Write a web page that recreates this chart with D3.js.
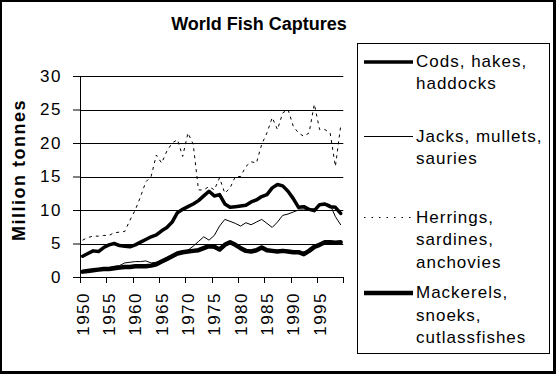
<!DOCTYPE html>
<html><head><meta charset="utf-8">
<script src="https://cdn.jsdelivr.net/npm/d3@7"></script>
<style>
body{margin:0;background:#fff;}
svg{display:block;}
text{font-family:Arial,"Liberation Sans",sans-serif;fill:#000;}
</style></head>
<body>
<svg id="chart" width="556" height="374"></svg>
<script>
const years = d3.range(1950, 2000);
const yTicks = [0, 5, 10, 15, 20, 25, 30];
const xTickLabels = [1950, 1955, 1960, 1965, 1970, 1975, 1980, 1985, 1990, 1995];

const cods = [3.1,3.5,3.9,3.8,4.4,4.8,5.0,4.7,4.6,4.5,
  4.8,5.2,5.6,6.0,6.3,6.9,7.4,8.2,9.6,10.1,
  10.5,10.9,11.4,12.1,12.8,12.1,12.3,10.9,10.4,10.5,
  10.6,10.7,11.2,11.5,12.0,12.3,13.3,13.8,13.6,12.8,
  11.7,10.4,10.5,10.1,9.9,10.8,10.9,10.5,10.4,9.5];
const jacks = [0.8,1.0,1.1,1.2,1.3,1.4,1.6,1.7,2.1,2.2,
  2.3,2.3,2.4,2.1,2.2,2.4,2.8,3.1,3.4,3.8,
  4.0,4.6,5.3,6.0,5.5,6.2,7.6,8.6,8.3,8.0,
  7.6,8.1,7.8,8.2,8.6,8.0,7.4,8.2,9.2,9.4,
  9.7,10.0,10.0,10.1,10.2,10.6,11.0,10.8,9.0,7.8];
const herrings = [5.5,5.9,6.1,6.1,6.2,6.2,6.6,6.7,6.8,8.5,
  10.0,12.0,14.2,15.0,18.2,17.0,18.8,20.0,20.5,18.0,
  21.5,19.8,13.0,13.0,13.5,13.0,14.8,12.5,13.3,15.0,
  15.0,16.5,17.2,17.0,19.8,21.5,23.8,22.0,24.5,25.0,
  22.5,21.5,21.0,21.5,25.8,22.0,22.0,21.5,16.5,22.5];
const mackerels = [0.8,0.9,1.0,1.1,1.2,1.2,1.3,1.4,1.5,1.5,
  1.6,1.6,1.6,1.7,1.9,2.3,2.7,3.1,3.5,3.7,
  3.8,3.9,4.0,4.3,4.6,4.5,4.1,4.8,5.2,4.8,
  4.3,3.9,3.8,4.0,4.4,4.0,3.9,3.8,3.9,3.8,
  3.7,3.7,3.4,3.9,4.5,4.8,5.2,5.2,5.1,5.2];

const seriesNames = [
  ["Cods, hakes,", "haddocks"],
  ["Jacks, mullets,", "sauries"],
  ["Herrings,", "sardines,", "anchovies"],
  ["Mackerels,", "snoeks,", "cutlassfishes"]
];
const seriesValues = [cods, jacks, herrings, mackerels];
const seriesStyle = [
  {w: 3.5, dash: null},
  {w: 1, dash: null},
  {w: 1, dash: "3,4"},
  {w: 4.5, dash: null}
];

const svg = d3.select("#chart");
const L = 80, R = 343.3, T = 76, B = 277;

const x = d3.scaleBand().domain(years).range([L, R]).padding(0);
const xc = yr => x(yr) + x.bandwidth() / 2;
const y = d3.scaleLinear().domain([0, 30]).range([B, T]);

// outer frame
svg.append("rect").attr("x", 0).attr("y", 0).attr("width", 556).attr("height", 374).attr("fill", "#fff");
svg.append("rect").attr("x", 0).attr("y", 0).attr("width", 2).attr("height", 374).attr("fill", "#000");
svg.append("rect").attr("x", 0).attr("y", 0).attr("width", 556).attr("height", 2).attr("fill", "#000");
svg.append("rect").attr("x", 553).attr("y", 0).attr("width", 3).attr("height", 374).attr("fill", "#000");
svg.append("rect").attr("x", 0).attr("y", 371).attr("width", 556).attr("height", 3).attr("fill", "#000");

// title
svg.append("text").attr("x", 259).attr("y", 30).attr("text-anchor", "middle")
  .style("font-size", "18px").style("font-weight", "bold").text("World Fish Captures");

// gridlines
svg.append("g").selectAll("line").data(yTicks.filter(d => d > 0)).join("line")
  .attr("x1", L).attr("x2", R).attr("y1", d => Math.round(y(d)) + 0.5).attr("y2", d => Math.round(y(d)) + 0.5)
  .attr("stroke", "#000").attr("stroke-width", 1);

// y axis
const yAxis = svg.append("g").attr("transform", `translate(${L},0)`)
  .call(d3.axisLeft(y).tickValues(yTicks).tickSize(7).tickPadding(11).tickFormat(d3.format("d")));
yAxis.select(".domain").attr("stroke", "#000").attr("d", `M0.5,${B}V${T}`);
yAxis.selectAll(".tick line").attr("stroke", "#000");
yAxis.selectAll(".tick text").style("font-size", "17px").style("letter-spacing", "1.5px")
  .style("font-family", "Arial, 'Liberation Sans', sans-serif").attr("fill", "#000");

// x axis line and ticks
const xTickPos = xTickLabels.map(v => x(v)).concat([R]);
svg.append("line").attr("x1", L).attr("x2", R).attr("y1", B + 0.5).attr("y2", B + 0.5).attr("stroke", "#000");
svg.append("g").selectAll("line").data(xTickPos).join("line")
  .attr("x1", d => Math.round(d) + 0.5).attr("x2", d => Math.round(d) + 0.5)
  .attr("y1", B).attr("y2", B + 6).attr("stroke", "#000");

// x labels (rotated)
svg.append("g").selectAll("text").data(xTickLabels).join("text")
  .attr("transform", d => `translate(${xc(d) + 6},292) rotate(-90)`)
  .attr("text-anchor", "end")
  .style("font-size", "17px").style("letter-spacing", "1.5px")
  .text(d => d);

// y axis title
svg.append("text").attr("transform", "translate(25,170) rotate(-90)").attr("text-anchor", "middle")
  .style("font-size", "18px").style("font-weight", "bold").style("letter-spacing", "1.5px")
  .text("Million tonnes");

// lines
const line = d3.line().x((d, i) => xc(years[i])).y(d => y(d)).curve(d3.curveLinear);
seriesValues.forEach((vals, i) => {
  svg.append("path").datum(vals).attr("d", line)
    .attr("fill", "none").attr("stroke", "#000")
    .attr("stroke-width", seriesStyle[i].w)
    .attr("stroke-linejoin", "round").attr("stroke-linecap", seriesStyle[i].dash ? "butt" : "round")
    .attr("stroke-dasharray", seriesStyle[i].dash);
});

// legend
const lg = svg.append("g");
lg.append("rect").attr("x", 357.5).attr("y", 43.5).attr("width", 192).attr("height", 310)
  .attr("fill", "#fff").attr("stroke", "#000").attr("stroke-width", 1);
const entryTop = [67, 141.5, 222.5, 298];
const lineGap = [21.5, 22.5, 22.5, 22.5];
seriesNames.forEach((names, i) => {
  const by = entryTop[i];
  lg.append("line").attr("x1", 364).attr("x2", 413).attr("y1", by - 5).attr("y2", by - 5)
    .attr("stroke", "#000").attr("stroke-width", seriesStyle[i].w)
    .attr("stroke-dasharray", seriesStyle[i].dash ? "1.5,6" : null);
  names.forEach((t, j) => {
    lg.append("text").attr("x", 416).attr("y", by + j * lineGap[i])
      .style("font-size", "17px").style("letter-spacing", "1px").text(t);
  });
});
</script>
</body></html>
